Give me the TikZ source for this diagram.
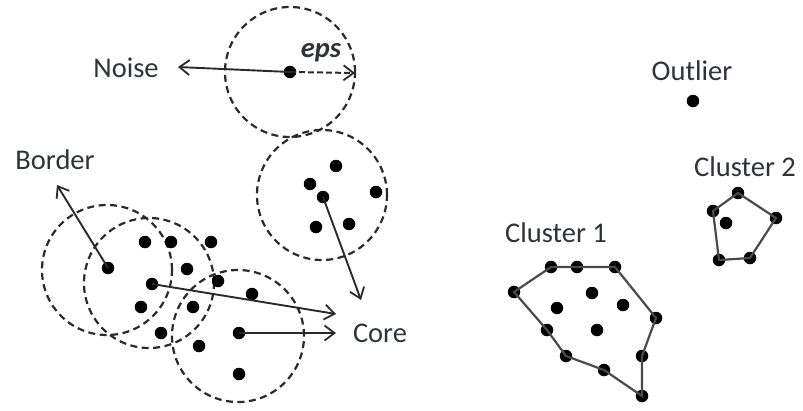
\documentclass[tikz,border=0pt]{standalone}
\usepackage{fontspec}
\setmainfont{Carlito}
\usetikzlibrary{arrows.meta}
\definecolor{ink}{HTML}{2A2A2A}
\definecolor{txt}{HTML}{2F3238}
\tikzset{
  dot/.style={circle,fill=black,inner sep=0pt,minimum size=12.5pt},
  lbl/.style={text=txt,font=\fontsize{28.5}{31}\selectfont,inner sep=0pt},
  epsrange/.style={draw=ink,line width=2.2pt,dash pattern=on 7pt off 4.5pt},
  link/.style={draw=ink,line width=1.9pt,-{Straight Barb[length=10pt,width=15pt,line width=1.8pt]}},
  epslink/.style={draw=ink,line width=2pt,dash pattern=on 6pt off 3pt,-{Straight Barb[length=10pt,width=15pt,line width=1.8pt]}},
  hull/.style={draw=ink!85,line width=2.2pt}
}
\begin{document}
\begin{tikzpicture}[x=1pt,y=-1pt]
\useasboundingbox (0,0) rectangle (803,410);
% eps-neighbourhoods
\draw[epsrange] (290,72) circle[radius=65pt];
\draw[epsrange] (322,195) circle[radius=65pt];
\draw[epsrange] (107,270) circle[radius=65pt];
\draw[epsrange] (149,283) circle[radius=65pt];
\draw[epsrange] (238,336) circle[radius=66pt];
% left points
\node[dot] (pn) at (290,72) {};
\node[dot] (q1) at (336,166) {};
\node[dot] (q2) at (310,184) {};
\node[dot] (q3) at (323,197) {};
\node[dot] (q4) at (376,192) {};
\node[dot] (q5) at (316,227) {};
\node[dot] (q6) at (349,224) {};
\node[dot] (a1) at (145,242) {};
\node[dot] (a2) at (171,242) {};
\node[dot] (a3) at (211,242) {};
\node[dot] (pb) at (108,268) {};
\node[dot] (a4) at (187,269) {};
\node[dot] (pc) at (152,284) {};
\node[dot] (a5) at (218,281) {};
\node[dot] (a6) at (252,294) {};
\node[dot] (a7) at (141,307) {};
\node[dot] (a8) at (193,307) {};
\node[dot] (a9) at (161,333) {};
\node[dot] (pd) at (239,333) {};
\node[dot] (a10) at (199,346) {};
\node[dot] (a11) at (239,374) {};
% labels
\node[lbl] (noise) at (126,68) {Noise};
\node[lbl] (border) at (55,160) {Border};
\node[lbl] (core) at (380,333) {Core};
\node[lbl,font=\fontsize{28.5}{31}\selectfont\bfseries\itshape] (eps) at (321,53) {eps};
\node[lbl] (outlier) at (692,71) {Outlier};
\node[lbl] (cl2) at (745,167) {Cluster 2};
\node[lbl] (cl1) at (556,233) {Cluster 1};
% arrow end points
\coordinate (tn) at (178,67);
\coordinate (te) at (355,73);
\coordinate (tb) at (57,185);
\coordinate (tc1) at (336,314);
\coordinate (tc2) at (336,333);
\coordinate (tc3) at (361,300);
\draw[link] (pn.center) -- (tn);
\draw[epslink] (pn.center) -- (te);
\draw[link] (pb.center) -- (tb);
\draw[link] (pc.center) -- (tc1);
\draw[link] (pd.center) -- (tc2);
\draw[link] (q3.center) -- (tc3);
% outlier
\node[dot] (po) at (693,101) {};
% cluster 2
\node[dot] (b1) at (738,193) {};
\node[dot] (b2) at (776,218) {};
\node[dot] (b3) at (750,258) {};
\node[dot] (b4) at (719,260) {};
\node[dot] (b5) at (713,211) {};
\node[dot] (b6) at (726,223) {};
\draw[hull] (b1.center) -- (b2.center) -- (b3.center) -- (b4.center) -- (b5.center) -- cycle;
% cluster 1
\node[dot] (c1) at (551,267) {};
\node[dot] (c2) at (577,267) {};
\node[dot] (c3) at (615,267) {};
\node[dot] (c4) at (656,318) {};
\node[dot] (c5) at (642,356) {};
\node[dot] (c6) at (642,396) {};
\node[dot] (c7) at (604,370) {};
\node[dot] (c8) at (566,356) {};
\node[dot] (c9) at (547,330) {};
\node[dot] (c10) at (514,292) {};
\node[dot] (c11) at (592,293) {};
\node[dot] (c12) at (557,308) {};
\node[dot] (c13) at (623,305) {};
\node[dot] (c14) at (597,330) {};
\draw[hull] (c1.center) -- (c2.center) -- (c3.center) -- (c4.center) -- (c5.center) -- (c6.center) -- (c7.center) -- (c8.center) -- (c9.center) -- (c10.center) -- cycle;
\end{tikzpicture}
\end{document}
